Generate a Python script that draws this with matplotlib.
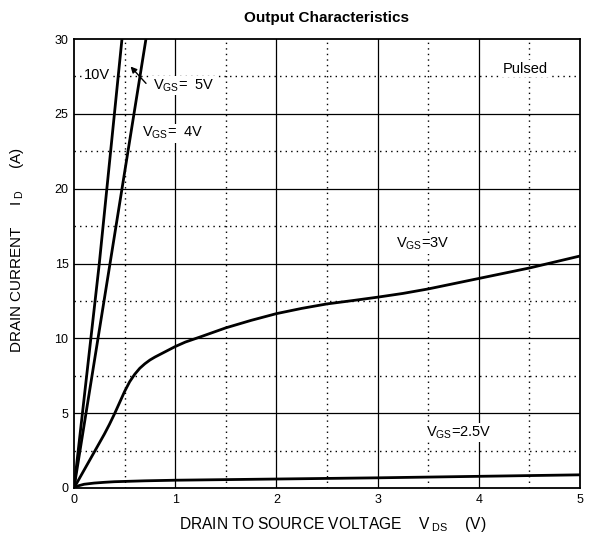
import matplotlib
matplotlib.use("Agg")
import matplotlib.pyplot as plt
import numpy as np

plt.rcParams['font.family'] = ['Liberation Sans', 'DejaVu Sans']
plt.rcParams['mathtext.fontset'] = 'custom'
plt.rcParams['mathtext.rm'] = 'Liberation Sans'
plt.rcParams['mathtext.it'] = 'Liberation Sans'

# Data
vds_10v = [0.0, 0.25, 0.474]
id_10v = [0.0, 15.0, 30.0]

vds_5v = [0.0, 0.356, 0.711]
id_5v = [0.0, 15.0, 30.0]

vds_3v = [0, 0.05, 0.1, 0.15, 0.2, 0.25, 0.3, 0.35, 0.4, 0.45, 0.5, 0.55, 0.6, 0.65, 0.7,
          0.75, 0.8, 0.9, 1.0, 1.1, 1.25, 1.5, 1.75, 2.0, 2.25, 2.5, 2.75, 3.0, 3.25,
          3.5, 3.75, 4.0, 4.25, 4.5, 4.75, 5.0]
id_3v = [0, 0.6, 1.2, 1.8, 2.4, 3.0, 3.6, 4.25, 4.95, 5.7, 6.45, 7.1, 7.6, 8.0, 8.3,
         8.55, 8.75, 9.1, 9.45, 9.75, 10.1, 10.7, 11.2, 11.65, 12.0, 12.3, 12.52, 12.75, 13.0,
         13.3, 13.65, 14.0, 14.35, 14.7, 15.1, 15.5]

vds_25v = [0, 0.02, 0.05, 0.1, 0.2, 0.3, 0.4, 0.55, 0.7, 1.0, 2.0, 3.0, 4.0, 5.0]
id_25v = [0, 0.08, 0.16, 0.25, 0.33, 0.38, 0.42, 0.45, 0.48, 0.52, 0.6, 0.68, 0.78, 0.88]

x_ticks = [0, 1, 2, 3, 4, 5]
y_ticks = [0, 5, 10, 15, 20, 25, 30]

W, H = 594, 543
fig = plt.figure(figsize=(W / 100, H / 100), dpi=100)
ax = fig.add_axes([74 / W, 1 - 488 / H, 506 / W, 449 / H])
ax.set_xlim(0, 5)
ax.set_ylim(0, 30)

# grid
for x in np.arange(0.5, 5, 1.0):
    ax.axvline(x, color='black', lw=1.0, ls=(0, (1, 3)), zorder=1)
for y in np.arange(2.5, 30, 5.0):
    ax.axhline(y, color='black', lw=1.0, ls=(0, (1, 3)), zorder=1)
for x in x_ticks[1:-1]:
    ax.axvline(x, color='black', lw=0.9, zorder=1)
for y in y_ticks[1:-1]:
    ax.axhline(y, color='black', lw=0.9, zorder=1)

lw = 2.0
ax.plot(vds_10v, id_10v, color='black', lw=lw, zorder=3, solid_capstyle='butt')
ax.plot(vds_5v, id_5v, color='black', lw=lw, zorder=3, solid_capstyle='butt')
ax.plot(vds_3v, id_3v, color='black', lw=lw, zorder=3, solid_joinstyle='round')
ax.plot(vds_25v, id_25v, color='black', lw=lw, zorder=3, solid_joinstyle='round')

ax.set_xticks(x_ticks)
ax.set_yticks(y_ticks)
ax.tick_params(length=0, labelsize=9)
ax.tick_params(axis='y', pad=4)
ax.tick_params(axis='x', pad=4)
for s in ax.spines.values():
    s.set_linewidth(1.3)

bbox = dict(facecolor='white', edgecolor='none', pad=1)
fs = 10.5
ax.text(0.1, 27.6, "10V", fontsize=fs, va='center', ha='left', bbox=bbox, zorder=4)
ax.text(0.78, 26.9, r"V$_{\rm GS}$=  5V", fontsize=fs, va='center', ha='left', bbox=bbox, zorder=4)
ax.text(0.67, 23.7, r"V$_{\rm GS}$=  4V", fontsize=fs, va='center', ha='left', bbox=bbox, zorder=4)
ax.text(3.18, 16.3, r"V$_{\rm GS}$=3V", fontsize=fs, va='center', ha='left', bbox=bbox, zorder=4)
ax.text(3.48, 3.7, r"V$_{\rm GS}$=2.5V", fontsize=fs, va='center', ha='left', bbox=bbox, zorder=4)
ax.text(4.24, 28.0, "Pulsed", fontsize=fs, va='center', ha='left', bbox=bbox, zorder=4)
ax.annotate("", xy=(0.54, 28.3), xytext=(0.73, 26.9),
            arrowprops=dict(arrowstyle='-|>', color='black', lw=1.0, mutation_scale=9), zorder=5)

fig.text(327 / W, 1 - 18 / H, "Output Characteristics", fontsize=11, fontweight='bold',
         ha='center', va='center')
fig.text(333 / W, 1 - 524 / H, r"DRAIN TO SOURCE VOLTAGE    V$_{\,\,\rm DS}$    (V)",
         fontsize=11.2, ha='center', va='center')
fig.text(17 / W, 1 - 250 / H, r"DRAIN CURRENT     I$_{\,\,\rm D}$     (A)",
         fontsize=11, ha='center', va='center', rotation=90)

fig.savefig("out.png", dpi=100)
